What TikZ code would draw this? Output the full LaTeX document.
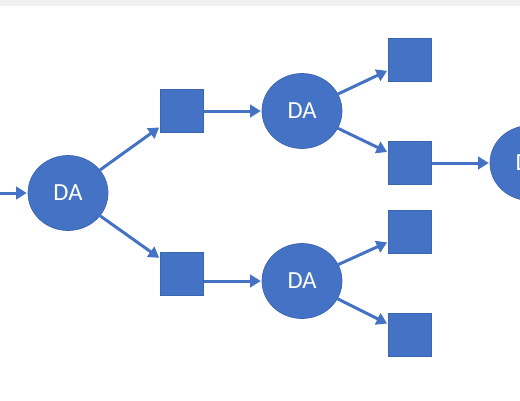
\documentclass[tikz,border=0pt]{standalone}
\usepackage{fontspec}
\setsansfont{Carlito}
\usetikzlibrary{arrows.meta, shapes.geometric}
\definecolor{dablue}{RGB}{68, 114, 196}
\definecolor{daedge}{RGB}{60, 100, 175}
\definecolor{topband}{gray}{0.94}

\tikzset{
	danode/.style={ellipse, fill=dablue, draw=daedge, line width=0.4pt,
		minimum width=1.6cm, minimum height=1.5cm, inner sep=0pt,
		text=white, font=\sffamily\fontsize{14}{14}\selectfont},
	leaf/.style={rectangle, fill=dablue, draw=daedge, line width=0.4pt,
		minimum size=0.87cm, inner sep=0pt},
	flow/.style={draw=dablue, line width=1.7pt,
		-{Triangle[length=6pt, width=7pt]}, shorten >=0.5pt}
}

\begin{document}
\begin{tikzpicture}[x=0.02cm, y=-0.02cm]
			\useasboundingbox (0,0) rectangle (520,400);
			\clip (0,0) rectangle (520,400);

			% --- band along the top ---
			\fill[topband] (0,0) rectangle (520,6);

			% --- first split ---
			\coordinate (in) at (0,193);
			\node[danode] (da1) at (68,193) {DA};
			\node[leaf] (sqa) at (182,111) {};
			\node[leaf] (sqb) at (182,274) {};

			% --- second level ---
			\node[danode] (da2) at (302,111) {DA};
			\node[danode] (da3) at (302,281) {DA};
			\node[leaf] (sqaa) at (410,60) {};
			\node[leaf] (sqab) at (410,163) {};
			\node[leaf] (sqba) at (410,232) {};
			\node[leaf] (sqbb) at (410,335) {};

			% --- next one, cut at the edge ---
			\node[danode] (da4) at (530,163) {DA};

			% --- connectors ---
			\draw[flow] (in) -- (da1);
			\draw[flow] (da1) -- (sqa);
			\draw[flow] (da1) -- (sqb);
			\draw[flow] (sqa) -- (da2);
			\draw[flow] (sqb.east |- da3) -- (da3);
			\draw[flow] (da2) -- (sqaa);
			\draw[flow] (da2) -- (sqab);
			\draw[flow] (da3) -- (sqba);
			\draw[flow] (da3) -- (sqbb);
			\draw[flow] (sqab) -- (da4);
		\end{tikzpicture}
\end{document}
